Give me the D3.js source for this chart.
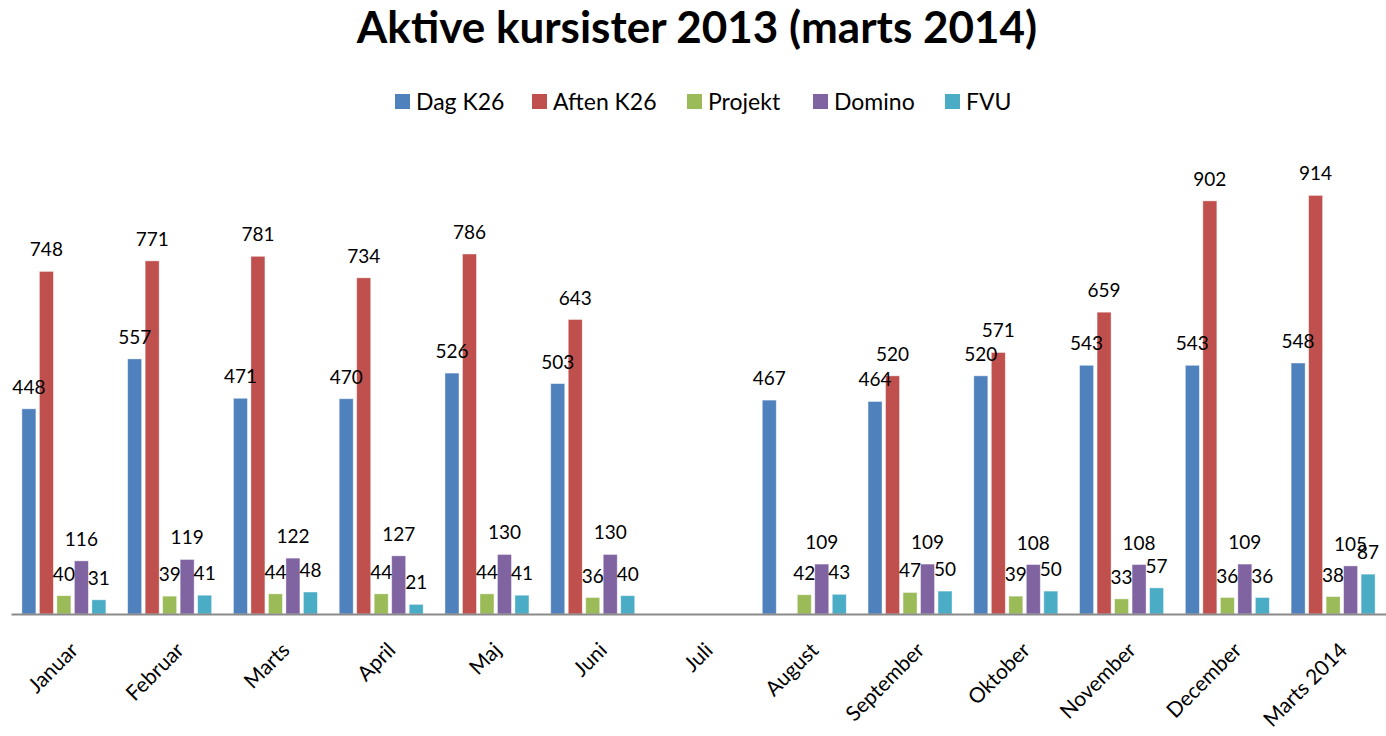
<!DOCTYPE html>
<html>
<head>
<meta charset="utf-8">
<script src="https://cdn.jsdelivr.net/npm/d3@7"></script>
<style>
  html, body { margin: 0; padding: 0; background: #fff; }
  svg { display: block; font-family: Lato, "Open Sans", sans-serif; }
</style>
</head>
<body>
<svg id="chart" width="1386" height="736"></svg>
<script>
const months = ["Januar","Februar","Marts","April","Maj","Juni","Juli","August","September","Oktober","November","December","Marts 2014"];
const seriesNames = ["Dag K26","Aften K26","Projekt","Domino","FVU"];
const dagK26   = [448, 557, 471, 470, 526, 503, null, 467, 464, 520, 543, 543, 548];
const aftenK26 = [748, 771, 781, 734, 786, 643, null, null, 520, 571, 659, 902, 914];
const projekt  = [40, 39, 44, 44, 44, 36, null, 42, 47, 39, 33, 36, 38];
const domino   = [116, 119, 122, 127, 130, 130, null, 109, 109, 108, 108, 109, 105];
const fvu      = [31, 41, 48, 21, 41, 40, null, 43, 50, 50, 57, 36, 87];
const colors   = ["#4F81BD","#C0504D","#9BBB59","#8064A2","#4BACC6"];
const title = "Aktive kursister 2013 (marts 2014)";

const seriesValues = [dagK26, aftenK26, projekt, domino, fvu];
const data = [];
months.forEach((m, i) => {
  seriesNames.forEach((s, j) => {
    const v = seriesValues[j][i];
    if (v != null) data.push({ month: m, series: s, value: v, color: colors[j] });
  });
});

const svg = d3.select("#chart");

const x0 = d3.scaleBand().domain(months).range([11, 1386]).paddingInner(0.206).paddingOuter(0.103);
const x1 = d3.scaleBand().domain(seriesNames).range([0, x0.bandwidth()]).paddingInner(0.2).paddingOuter(0);
const y = d3.scaleLinear().domain([0, 1000]).range([614, 156]);

// Title
svg.append("text")
  .attr("x", 697).attr("y", 43)
  .attr("text-anchor", "middle")
  .attr("font-size", 44).attr("font-weight", "bold")
  .attr("fill", "#000")
  .text(title);

// Legend
const legendX = [395, 532, 687, 813, 945];
const legend = svg.append("g");
seriesNames.forEach((s, j) => {
  const g = legend.append("g").attr("transform", `translate(${legendX[j]},94)`);
  g.append("rect").attr("width", 15).attr("height", 15).attr("fill", colors[j]);
  g.append("text").attr("x", 21).attr("y", 16).attr("font-size", 23).attr("fill", "#000").text(s);
});

// Bars
svg.append("g").selectAll("rect").data(data).join("rect")
  .attr("x", d => x0(d.month) + x1(d.series))
  .attr("y", d => y(d.value))
  .attr("width", x1.bandwidth())
  .attr("height", d => y(0) - y(d.value))
  .attr("fill", d => d.color)
  .attr("stroke", "rgba(255,255,255,0.5)")
  .attr("stroke-width", 0.8);

// Data labels
svg.append("g").selectAll("text").data(data).join("text")
  .attr("x", d => x0(d.month) + x1(d.series) + x1.bandwidth() / 2)
  .attr("y", d => y(d.value) - 15)
  .attr("text-anchor", "middle")
  .attr("font-size", 19)
  .attr("fill", "#000")
  .text(d => d.value);

// X axis
const xAxis = d3.axisBottom(x0).tickSize(0).tickSizeOuter(0);
const ax = svg.append("g").attr("transform", "translate(0,614)").call(xAxis);
ax.select(".domain").attr("stroke", "#8a8a8a").attr("stroke-width", 2);
ax.selectAll("text")
  .attr("font-size", 21)
  .attr("font-family", "Lato, sans-serif")
  .attr("fill", "#000")
  .attr("text-anchor", "end")
  .attr("dy", "0.71em")
  .attr("y", 0)
  .attr("transform", "translate(5,27) rotate(-45)");
</script>
</body>
</html>
